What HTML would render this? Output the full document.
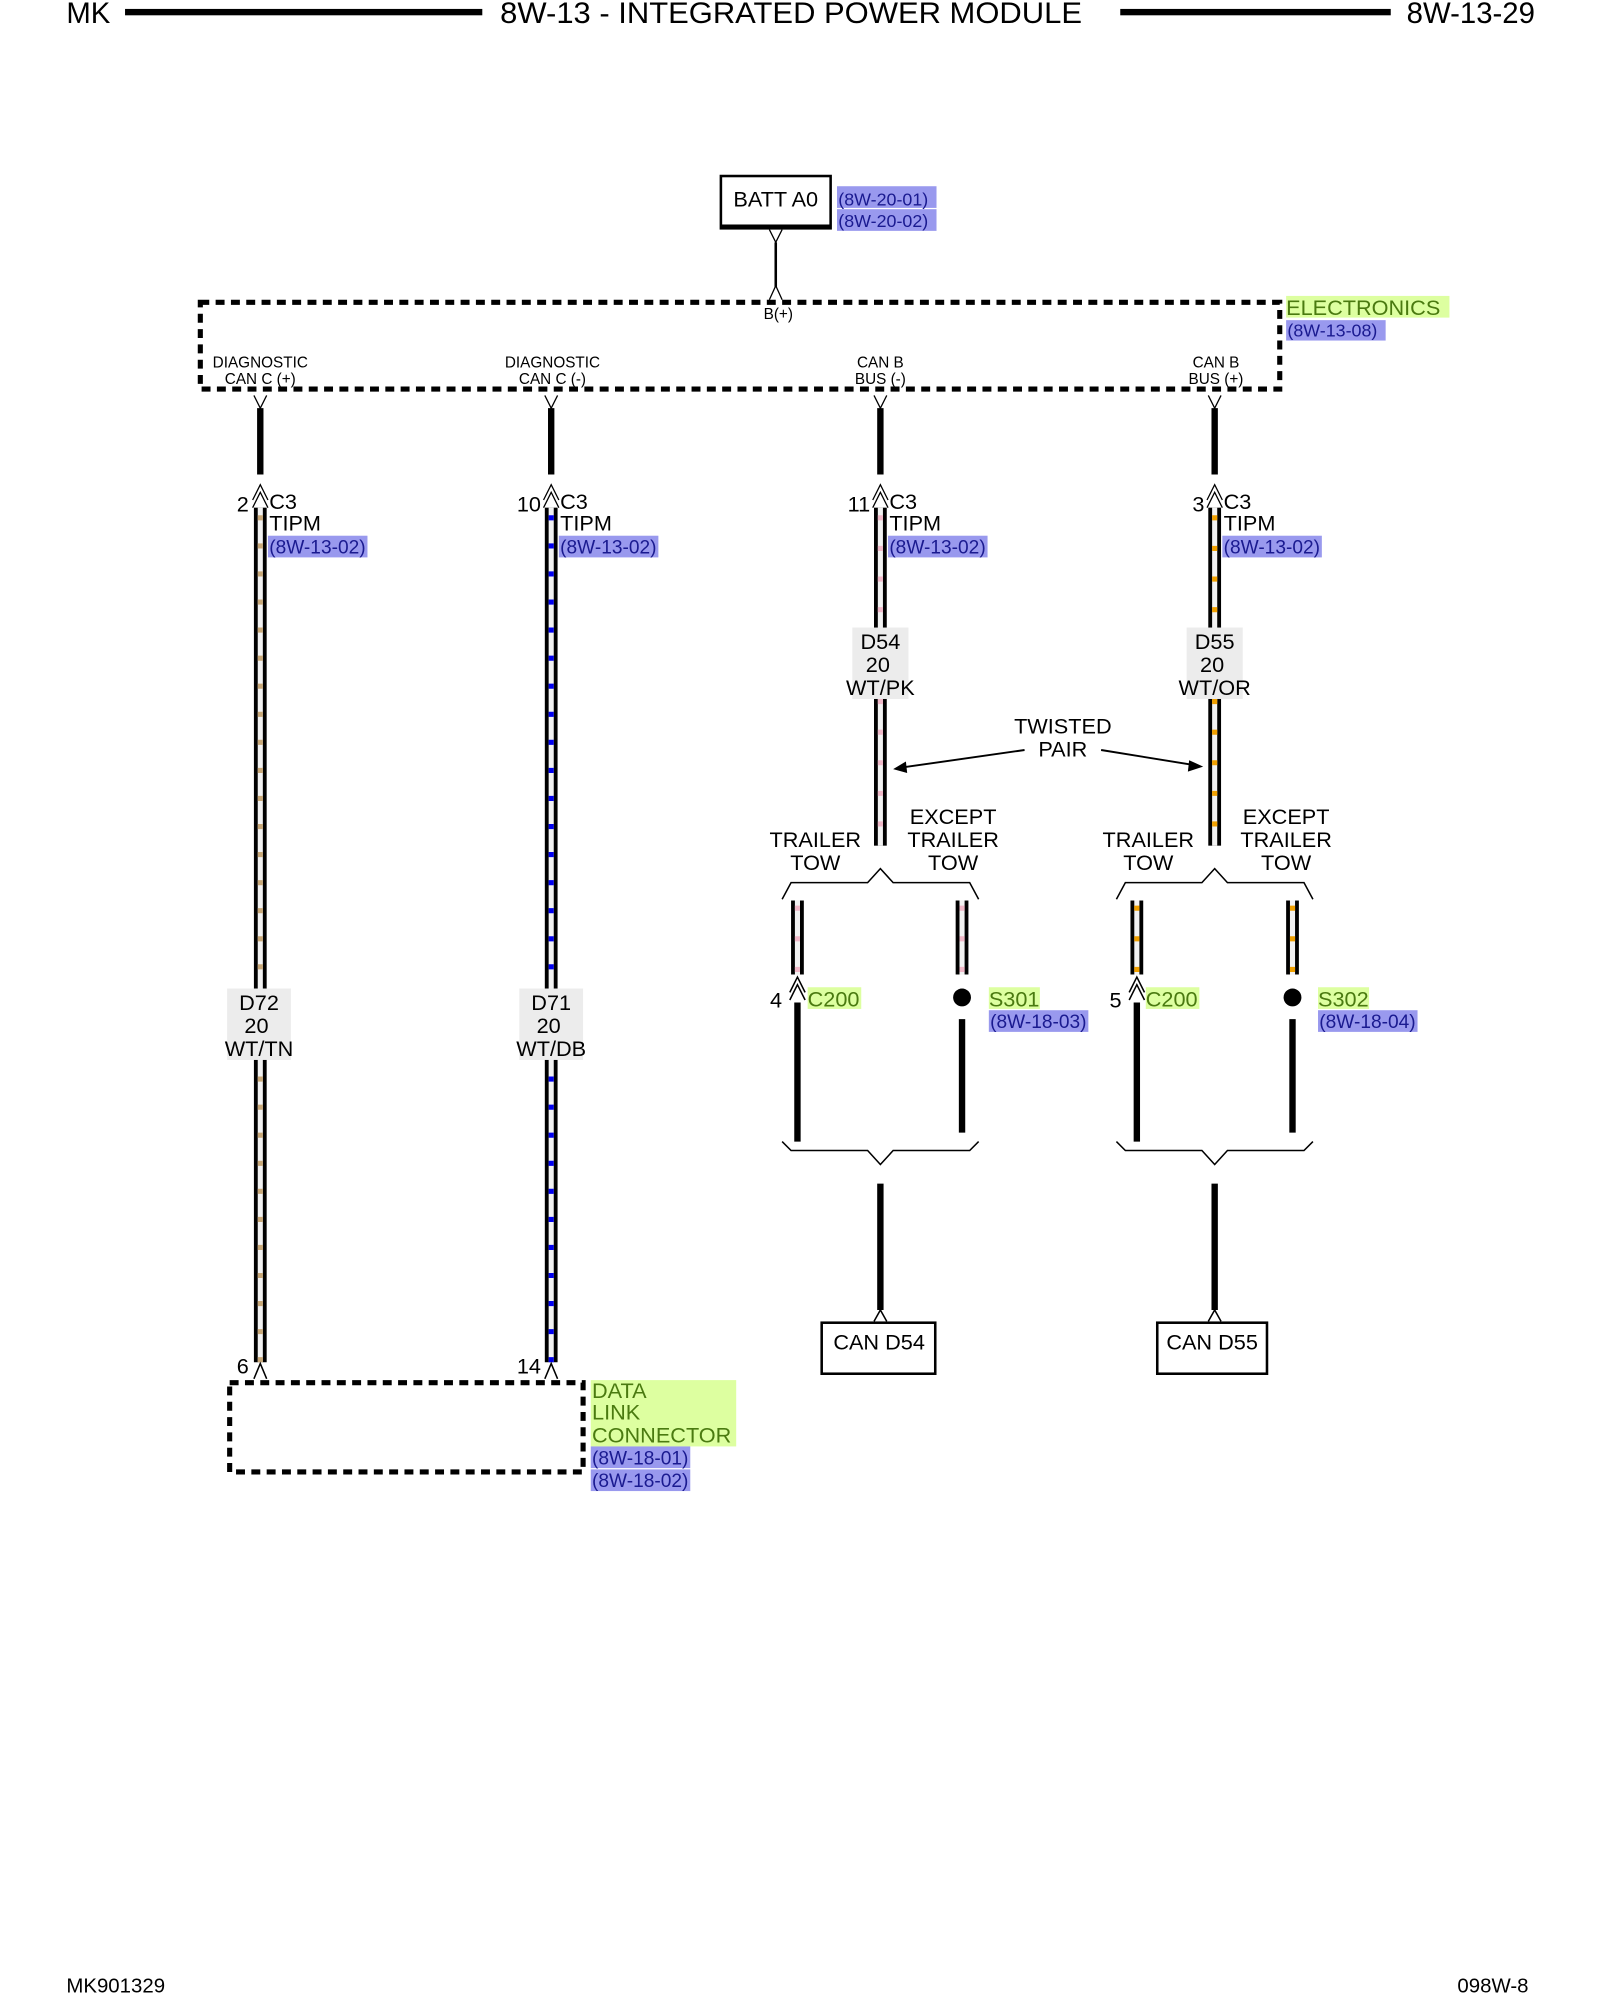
<!DOCTYPE html>
<html><head><meta charset="utf-8"><style>
html,body{margin:0;padding:0;background:#fff}
svg{display:block}
text{font-family:"Liberation Sans",Arial,sans-serif;fill:#000}
.s{font-size:12px}
.m{font-size:17px}
.h{font-size:23px}
.g{fill:#4a7a10}
.b{fill:#1a1a90}
</style></head><body>
<svg width="1600" height="2000" viewBox="0 0 1254 1568" preserveAspectRatio="none" xmlns="http://www.w3.org/2000/svg">
<!-- header -->
<text x="52" y="18" class="h">MK</text>
<rect x="98" y="7" width="280" height="5" fill="#000"/>
<text x="620" y="18" class="h" text-anchor="middle" textLength="456" lengthAdjust="spacingAndGlyphs">8W-13 - INTEGRATED POWER MODULE</text>
<rect x="878" y="7" width="212" height="5" fill="#000"/>
<text x="1203" y="18" class="h" text-anchor="end">8W-13-29</text>

<!-- BATT -->
<rect x="565" y="138" width="86" height="41" fill="#fff" stroke="#000" stroke-width="2"/>
<rect x="565" y="176" width="86" height="3" fill="#000"/>
<text x="608" y="162" class="m" text-anchor="middle">BATT A0</text>
<rect x="656" y="146" width="78" height="17" fill="#9999ee"/>
<rect x="656" y="164" width="78" height="17" fill="#9999ee"/>
<text x="657" y="161" class="s b" style="font-size:14px">(8W-20-01)</text>
<text x="657" y="178" class="s b" style="font-size:14px">(8W-20-02)</text>
<line x1="608" y1="190" x2="608" y2="225" stroke="#000" stroke-width="2"/>
<polyline points="603,180 608,190 613,180" fill="none" stroke="#000"/>
<polyline points="603,235 608,224 613,235" fill="none" stroke="#000"/>
<text x="610" y="250" class="s" text-anchor="middle">B(+)</text>

<!-- Electronics box -->
<rect x="157" y="237" width="846" height="68" fill="none" stroke="#000" stroke-width="4" stroke-dasharray="7 5"/>
<rect x="1008" y="232" width="128" height="17" fill="#ddffa0"/>
<text x="1008" y="247" class="g" style="font-size:17px">ELECTRONICS</text>
<rect x="1008" y="251" width="78" height="16" fill="#9999ee"/>
<text x="1009" y="264" class="b" style="font-size:14px">(8W-13-08)</text>

<text x="204" y="288" class="s" text-anchor="middle">DIAGNOSTIC</text>
<text x="204" y="301" class="s" text-anchor="middle">CAN C (+)</text>
<text x="433" y="288" class="s" text-anchor="middle">DIAGNOSTIC</text>
<text x="433" y="301" class="s" text-anchor="middle">CAN C (-)</text>
<text x="690" y="288" class="s" text-anchor="middle">CAN B</text>
<text x="690" y="301" class="s" text-anchor="middle">BUS (-)</text>
<text x="953" y="288" class="s" text-anchor="middle">CAN B</text>
<text x="953" y="301" class="s" text-anchor="middle">BUS (+)</text>

<g fill="none" stroke="#000">
<polyline points="199,310 204,320 209,310"/><line x1="204" y1="320" x2="204" y2="372" stroke-width="5"/>
<polyline points="198,392 204,380 210,392"/><polyline points="198,398 204,386 210,398"/>
<polyline points="427,310 432,320 437,310"/><line x1="432" y1="320" x2="432" y2="372" stroke-width="5"/>
<polyline points="426,392 432,380 438,392"/><polyline points="426,398 432,386 438,398"/>
<polyline points="685,310 690,320 695,310"/><line x1="690" y1="320" x2="690" y2="372" stroke-width="5"/>
<polyline points="684,392 690,380 696,392"/><polyline points="684,398 690,386 696,398"/>
<polyline points="947,310 952,320 957,310"/><line x1="952" y1="320" x2="952" y2="372" stroke-width="5"/>
<polyline points="946,392 952,380 958,392"/><polyline points="946,398 952,386 958,398"/>
</g>

<g>
<rect x="199" y="398" width="10" height="670" fill="#000"/><rect x="202" y="398" width="4" height="670" fill="#f2f2f2"/>
<line x1="204" y1="404" x2="204" y2="1068" stroke="#c8a878" stroke-width="4" stroke-dasharray="4 18"/>
<rect x="427" y="398" width="10" height="670" fill="#000"/><rect x="430" y="398" width="4" height="670" fill="#f2f2f2"/>
<line x1="432" y1="404" x2="432" y2="1068" stroke="#0000ee" stroke-width="4" stroke-dasharray="4 18"/>
<rect x="685" y="398" width="10" height="265" fill="#000"/><rect x="688" y="398" width="4" height="265" fill="#f2f2f2"/>
<line x1="690" y1="404" x2="690" y2="663" stroke="#f0b8c8" stroke-width="4" stroke-dasharray="4 20"/>
<rect x="947" y="398" width="10" height="265" fill="#000"/><rect x="950" y="398" width="4" height="265" fill="#f2f2f2"/>
<line x1="952" y1="404" x2="952" y2="663" stroke="#f0a000" stroke-width="4" stroke-dasharray="4 20"/>
<rect x="620" y="706" width="10" height="58" fill="#000"/><rect x="623" y="706" width="4" height="58" fill="#f2f2f2"/>
<line x1="625" y1="710" x2="625" y2="763" stroke="#f0b8c8" stroke-width="4" stroke-dasharray="4 20"/>
<rect x="749" y="706" width="10" height="58" fill="#000"/><rect x="752" y="706" width="4" height="58" fill="#f2f2f2"/>
<line x1="754" y1="710" x2="754" y2="763" stroke="#f0b8c8" stroke-width="4" stroke-dasharray="4 20"/>
<rect x="886" y="706" width="10" height="58" fill="#000"/><rect x="889" y="706" width="4" height="58" fill="#f2f2f2"/>
<line x1="891" y1="710" x2="891" y2="763" stroke="#f0a000" stroke-width="4" stroke-dasharray="4 20"/>
<rect x="1008" y="706" width="10" height="58" fill="#000"/><rect x="1011" y="706" width="4" height="58" fill="#f2f2f2"/>
<line x1="1013" y1="710" x2="1013" y2="763" stroke="#f0a000" stroke-width="4" stroke-dasharray="4 20"/>
</g>

<text x="195" y="401" class="m" text-anchor="end">2</text>
<text x="211" y="399" class="m">C3</text><text x="211" y="416" class="m">TIPM</text>
<rect x="210" y="420" width="78" height="17" fill="#9999ee"/><text x="211" y="434" class="b" style="font-size:15px">(8W-13-02)</text>
<text x="424" y="401" class="m" text-anchor="end">10</text>
<text x="439" y="399" class="m">C3</text><text x="439" y="416" class="m">TIPM</text>
<rect x="438" y="420" width="78" height="17" fill="#9999ee"/><text x="439" y="434" class="b" style="font-size:15px">(8W-13-02)</text>
<text x="682" y="401" class="m" text-anchor="end">11</text>
<text x="697" y="399" class="m">C3</text><text x="697" y="416" class="m">TIPM</text>
<rect x="696" y="420" width="78" height="17" fill="#9999ee"/><text x="697" y="434" class="b" style="font-size:15px">(8W-13-02)</text>
<text x="944" y="401" class="m" text-anchor="end">3</text>
<text x="959" y="399" class="m">C3</text><text x="959" y="416" class="m">TIPM</text>
<rect x="958" y="420" width="78" height="17" fill="#9999ee"/><text x="959" y="434" class="b" style="font-size:15px">(8W-13-02)</text>

<rect x="178" y="775" width="50" height="56" fill="#ececec"/>
<text x="203" y="792" class="m" text-anchor="middle">D72</text><text x="201" y="810" class="m" text-anchor="middle">20</text><text x="203" y="828" class="m" text-anchor="middle">WT/TN</text>
<rect x="407" y="775" width="50" height="56" fill="#ececec"/>
<text x="432" y="792" class="m" text-anchor="middle">D71</text><text x="430" y="810" class="m" text-anchor="middle">20</text><text x="432" y="828" class="m" text-anchor="middle">WT/DB</text>
<rect x="668" y="492" width="44" height="56" fill="#ececec"/>
<text x="690" y="509" class="m" text-anchor="middle">D54</text><text x="688" y="527" class="m" text-anchor="middle">20</text><text x="690" y="545" class="m" text-anchor="middle">WT/PK</text>
<rect x="930" y="492" width="44" height="56" fill="#ececec"/>
<text x="952" y="509" class="m" text-anchor="middle">D55</text><text x="950" y="527" class="m" text-anchor="middle">20</text><text x="952" y="545" class="m" text-anchor="middle">WT/OR</text>

<text x="833" y="575" class="m" text-anchor="middle">TWISTED</text>
<text x="833" y="593" class="m" text-anchor="middle">PAIR</text>
<line x1="803" y1="588" x2="705" y2="602" stroke="#000" stroke-width="1.5"/>
<polygon points="700,603 710,597 711,606" fill="#000"/>
<line x1="863" y1="588" x2="937" y2="600" stroke="#000" stroke-width="1.5"/>
<polygon points="943,601 932,596 931,605" fill="#000"/>

<text x="639" y="664" class="m" text-anchor="middle">TRAILER</text><text x="639" y="682" class="m" text-anchor="middle">TOW</text>
<text x="747" y="646" class="m" text-anchor="middle">EXCEPT</text><text x="747" y="664" class="m" text-anchor="middle">TRAILER</text><text x="747" y="682" class="m" text-anchor="middle">TOW</text>
<text x="900" y="664" class="m" text-anchor="middle">TRAILER</text><text x="900" y="682" class="m" text-anchor="middle">TOW</text>
<text x="1008" y="646" class="m" text-anchor="middle">EXCEPT</text><text x="1008" y="664" class="m" text-anchor="middle">TRAILER</text><text x="1008" y="682" class="m" text-anchor="middle">TOW</text>

<g fill="none" stroke="#000" stroke-width="1.2">
<polyline points="613,705 620,692 680,692 690,681 700,692 760,692 767,705"/>
<polyline points="875,705 882,692 942,692 952,681 962,692 1022,692 1029,705"/>
<polyline points="613,895 620,902 680,902 690,913 700,902 760,902 767,895"/>
<polyline points="875,895 882,902 942,902 952,913 962,902 1022,902 1029,895"/>
<polyline points="619,778 625,766 631,778"/><polyline points="619,784 625,772 631,784"/>
<polyline points="885,778 891,766 897,778"/><polyline points="885,784 891,772 897,784"/>
<polyline points="685,1036 690,1027 695,1036"/>
<polyline points="947,1036 952,1027 957,1036"/>
<polyline points="199,1081 204,1069 209,1081"/>
<polyline points="427,1081 432,1069 437,1081"/>
</g>
<g stroke="#000" stroke-width="5">
<line x1="625" y1="786" x2="625" y2="895"/>
<line x1="754" y1="799" x2="754" y2="888"/>
<line x1="891" y1="786" x2="891" y2="895"/>
<line x1="1013" y1="799" x2="1013" y2="888"/>
<line x1="690" y1="928" x2="690" y2="1027"/>
<line x1="952" y1="928" x2="952" y2="1027"/>
</g>
<circle cx="754" cy="782" r="7" fill="#000"/>
<circle cx="1013" cy="782" r="7" fill="#000"/>
<text x="613" y="790" class="m" text-anchor="end">4</text>
<rect x="633" y="774" width="42" height="17" fill="#ddffa0"/><text x="633" y="789" class="g m">C200</text>
<text x="879" y="790" class="m" text-anchor="end">5</text>
<rect x="898" y="774" width="42" height="17" fill="#ddffa0"/><text x="898" y="789" class="g m">C200</text>
<rect x="775" y="774" width="40" height="17" fill="#ddffa0"/><text x="775" y="789" class="g m">S301</text>
<rect x="775" y="792" width="78" height="17" fill="#9999ee"/><text x="776" y="806" class="b" style="font-size:15px">(8W-18-03)</text>
<rect x="1033" y="774" width="40" height="17" fill="#ddffa0"/><text x="1033" y="789" class="g m">S302</text>
<rect x="1033" y="792" width="78" height="17" fill="#9999ee"/><text x="1034" y="806" class="b" style="font-size:15px">(8W-18-04)</text>

<rect x="644" y="1037" width="89" height="40" fill="#fff" stroke="#000" stroke-width="2"/>
<text x="689" y="1058" class="m" text-anchor="middle">CAN D54</text>
<rect x="907" y="1037" width="86" height="40" fill="#fff" stroke="#000" stroke-width="2"/>
<text x="950" y="1058" class="m" text-anchor="middle">CAN D55</text>

<text x="195" y="1077" class="m" text-anchor="end">6</text>
<text x="424" y="1077" class="m" text-anchor="end">14</text>
<rect x="180" y="1084" width="277" height="70" fill="none" stroke="#000" stroke-width="4" stroke-dasharray="7 5"/>
<rect x="463" y="1082" width="114" height="52" fill="#ddffa0"/>
<text x="464" y="1096" class="g m">DATA</text>
<text x="464" y="1113" class="g m">LINK</text>
<text x="464" y="1131" class="g m">CONNECTOR</text>
<rect x="463" y="1134" width="78" height="17" fill="#9999ee"/><text x="464" y="1148" class="b" style="font-size:15px">(8W-18-01)</text>
<rect x="463" y="1152" width="78" height="17" fill="#9999ee"/><text x="464" y="1166" class="b" style="font-size:15px">(8W-18-02)</text>

<text x="52" y="1562" class="m" style="font-size:16px">MK901329</text>
<text x="1198" y="1562" class="m" text-anchor="end" style="font-size:16px">098W-8</text>
</svg>
</body></html>
